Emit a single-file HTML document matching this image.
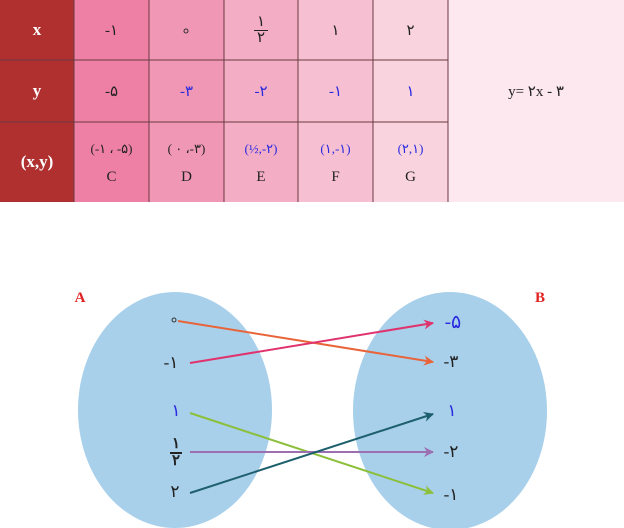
<!DOCTYPE html>
<html><head><meta charset="utf-8"><style>
body{margin:0;width:624px;height:528px;background:#fff;position:relative;overflow:hidden;font-family:"Liberation Serif","Noto Sans CJK SC",serif}
.c{position:absolute;display:flex;align-items:center;justify-content:center;flex-direction:column;font-size:15px;color:#222;box-sizing:border-box}
.b{color:#2a2ae0}
.w{color:#fff;font-weight:bold;font-size:17px}
</style></head><body>
<svg width="624" height="528" style="position:absolute;left:0;top:0">
<rect x="0" y="0" width="74" height="202" fill="#b03030"/>
<rect x="74" y="0" width="75" height="202" fill="#ee80a6"/>
<rect x="149" y="0" width="75" height="202" fill="#f097b6"/>
<rect x="224" y="0" width="74" height="202" fill="#f3adc5"/>
<rect x="298" y="0" width="75" height="202" fill="#f6c0d2"/>
<rect x="373" y="0" width="75" height="202" fill="#f9d3de"/>
<rect x="448" y="0" width="176" height="202" fill="#fde8ef"/>
<g stroke="#6a3a40" stroke-width="1">
<line x1="0" y1="60" x2="448" y2="60"/><line x1="0" y1="122" x2="448" y2="122"/>
<line x1="74" y1="0" x2="74" y2="202"/><line x1="149" y1="0" x2="149" y2="202"/>
<line x1="224" y1="0" x2="224" y2="202"/><line x1="298" y1="0" x2="298" y2="202"/>
<line x1="373" y1="0" x2="373" y2="202"/><line x1="448" y1="0" x2="448" y2="202"/>
</g>
<ellipse cx="175" cy="410" rx="97" ry="118" fill="#a8d0eb"/>
<ellipse cx="450" cy="411" rx="97" ry="119" fill="#a8d0eb"/>
<circle cx="174" cy="320" r="2" fill="none" stroke="#333" stroke-width="1"/>
<circle cx="186" cy="31" r="2" fill="none" stroke="#333" stroke-width="1"/>
<defs>
<marker id="m1" markerWidth="10" markerHeight="10" refX="9" refY="5" orient="auto" markerUnits="userSpaceOnUse"><path d="M0,0L10,5L0,10L3,5z" fill="#e8643a"/></marker>
<marker id="m2" markerWidth="10" markerHeight="10" refX="9" refY="5" orient="auto" markerUnits="userSpaceOnUse"><path d="M0,0L10,5L0,10L3,5z" fill="#e0336e"/></marker>
<marker id="m3" markerWidth="10" markerHeight="10" refX="9" refY="5" orient="auto" markerUnits="userSpaceOnUse"><path d="M0,0L10,5L0,10L3,5z" fill="#8cbf3a"/></marker>
<marker id="m4" markerWidth="10" markerHeight="10" refX="9" refY="5" orient="auto" markerUnits="userSpaceOnUse"><path d="M0,0L10,5L0,10L3,5z" fill="#9b6fb0"/></marker>
<marker id="m5" markerWidth="10" markerHeight="10" refX="9" refY="5" orient="auto" markerUnits="userSpaceOnUse"><path d="M0,0L10,5L0,10L3,5z" fill="#1e5f6e"/></marker>
</defs>
<g stroke-width="2" fill="none">
<line x1="178" y1="321" x2="433" y2="362" stroke="#e8643a" marker-end="url(#m1)"/>
<line x1="190" y1="363" x2="433" y2="323" stroke="#e0336e" marker-end="url(#m2)"/>
<line x1="190" y1="413" x2="433" y2="493" stroke="#8cbf3a" marker-end="url(#m3)"/>
<line x1="190" y1="452" x2="433" y2="452" stroke="#9b6fb0" marker-end="url(#m4)"/>
<line x1="190" y1="493" x2="433" y2="414" stroke="#1e5f6e" marker-end="url(#m5)"/>
</g>
</svg>
<div class="c w" style="left:0;top:0;width:74px;height:60px">x</div>
<div class="c w" style="left:0;top:60px;width:74px;height:62px">y</div>
<div class="c w" style="left:0;top:122px;width:74px;height:80px">(x,y)</div>
<div class="c" style="left:74px;top:0;width:75px;height:60px">-۱</div>
<div class="c" style="left:224px;top:0;width:74px;height:60px;line-height:15px"><span style="border-bottom:1px solid #222;padding:0 3px">۱</span><span>۲</span></div>
<div class="c" style="left:298px;top:0;width:75px;height:60px">۱</div>
<div class="c" style="left:373px;top:0;width:75px;height:60px">۲</div>
<div class="c" style="left:74px;top:60px;width:75px;height:62px">-۵</div>
<div class="c b" style="left:149px;top:60px;width:75px;height:62px">-۳</div>
<div class="c b" style="left:224px;top:60px;width:74px;height:62px">-۲</div>
<div class="c b" style="left:298px;top:60px;width:75px;height:62px">-۱</div>
<div class="c b" style="left:373px;top:60px;width:75px;height:62px">۱</div>
<div class="c" style="left:448px;top:60px;width:176px;height:62px">y= ۲x - ۳</div>
<div class="c" style="left:74px;top:130px;width:75px;height:66px;line-height:28px"><span style="font-size:13px">(-۱ ، -۵)</span><span>C</span></div>
<div class="c" style="left:149px;top:130px;width:75px;height:66px;line-height:28px"><span style="font-size:13px">( ۰ ،-۳)</span><span>D</span></div>
<div class="c" style="left:224px;top:130px;width:74px;height:66px;line-height:28px"><span class="b" style="font-size:13px">(½,-۲)</span><span>E</span></div>
<div class="c" style="left:298px;top:130px;width:75px;height:66px;line-height:28px"><span class="b" style="font-size:13px">(۱,-۱)</span><span>F</span></div>
<div class="c" style="left:373px;top:130px;width:75px;height:66px;line-height:28px"><span class="b" style="font-size:13px">(۲,۱)</span><span>G</span></div>
<div class="c" style="left:72px;top:288px;width:16px;height:20px;color:#e02020;font-weight:bold">A</div>
<div class="c" style="left:532px;top:288px;width:16px;height:20px;color:#e02020;font-weight:bold">B</div>
<div class="c" style="left:158px;top:352px;width:26px;height:22px;font-size:17px">-۱</div>
<div class="c b" style="left:166px;top:400px;width:20px;height:22px;font-size:17px">۱</div>
<div class="c" style="left:166px;top:436px;width:20px;height:34px;font-size:15px;line-height:15px;font-weight:bold"><span style="border-bottom:2px solid #222;padding:0 2px">۱</span><span>۲</span></div>
<div class="c" style="left:164px;top:481px;width:22px;height:22px;font-size:17px">۲</div>
<div class="c b" style="left:436px;top:311px;width:34px;height:22px;font-size:19px">-۵</div>
<div class="c" style="left:436px;top:351px;width:30px;height:22px;font-size:17px">-۳</div>
<div class="c b" style="left:440px;top:400px;width:24px;height:22px;font-size:17px">۱</div>
<div class="c" style="left:436px;top:441px;width:30px;height:22px;font-size:17px">-۲</div>
<div class="c" style="left:436px;top:484px;width:30px;height:22px;font-size:17px">-۱</div>
</body></html>
